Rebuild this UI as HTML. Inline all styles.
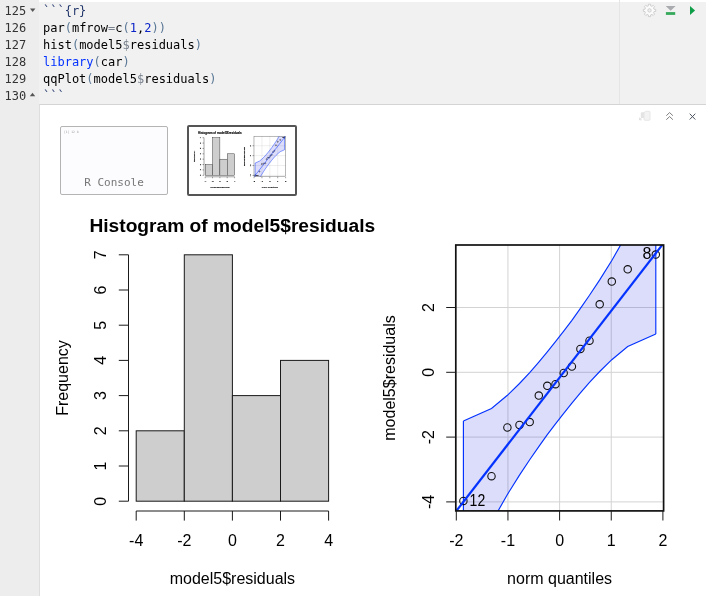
<!DOCTYPE html>
<html><head><meta charset="utf-8"><title>chunk</title>
<style>
html,body{margin:0;padding:0;background:#fff;}
#root{position:relative;width:706px;height:596px;overflow:hidden;background:#fff;font-family:"DejaVu Sans Mono","Liberation Mono",monospace;}
#gutter{position:absolute;left:0;top:0;width:39px;height:593px;padding-top:3px;background:#ededed;}
#codebg{position:absolute;left:39px;top:2px;width:667px;height:102px;background:#f1f1f1;}
#margin{position:absolute;left:619px;top:0;width:1px;height:104px;background:#e5e5e5;}
.ln{position:relative;height:17px;line-height:17px;font-size:12px;color:#333;padding-left:4.5px;white-space:pre;}
.cl{height:17px;line-height:17px;font-size:12px;color:#000;white-space:pre;}
#code{position:absolute;left:43px;top:3px;}
.ch{color:#23376b;} .p{color:#5a7896;} .op{color:#77808c;} .n{color:#0b24c8;} .kw{color:#0433ff;}
#out{position:absolute;left:39px;top:104px;width:680px;height:520px;background:#fff;border-left:1px solid #dedede;border-top:1px solid #d4d4d4;box-sizing:border-box;}
#con{position:absolute;left:60px;top:126px;width:108px;height:69px;box-sizing:border-box;border:1px solid #b4b4b4;border-radius:2px;background:#fcfcfe;}
#con .t{position:absolute;left:3px;top:3px;font-size:3px;line-height:4px;color:#999;font-family:"DejaVu Sans Mono","Liberation Mono",monospace;}
#con .l{position:absolute;left:0;right:0;top:49px;text-align:center;font-size:11px;line-height:14px;color:#777;font-family:"DejaVu Sans Mono","Liberation Mono",monospace;}
#thumb{position:absolute;left:187px;top:125px;width:110px;height:71px;box-sizing:border-box;border:2px solid #555;border-radius:2px;background:#fff;overflow:hidden;}
#thumb text{stroke:#000;stroke-width:0.7px;}
svg text{font-family:"Liberation Sans", Arial, Helvetica, sans-serif;fill:#000;}
</style></head><body>
<div id="root">
<div id="gutter"><div class="ln">125</div><div class="ln">126</div><div class="ln">127</div><div class="ln">128</div><div class="ln">129</div><div class="ln">130</div></div>
<div id="codebg"></div>
<div id="margin"></div>
<div id="code"><div class="cl"><span class="ch">```{r}</span></div><div class="cl">par<span class="p">(</span>mfrow<span class="op">=</span>c<span class="p">(</span><span class="n">1</span>,<span class="n">2</span><span class="p">))</span></div><div class="cl">hist<span class="p">(</span>model5<span class="op">$</span>residuals<span class="p">)</span></div><div class="cl"><span class="kw">library</span><span class="p">(</span>car<span class="p">)</span></div><div class="cl">qqPlot<span class="p">(</span>model5<span class="op">$</span>residuals<span class="p">)</span></div><div class="cl"><span class="ch">```</span></div></div>
<svg style="position:absolute;left:0;top:0" width="706" height="110" viewBox="0 0 706 110">
 <path d="M30 8.5 h5.4 l-2.7 3.4z" fill="#555"/>
 <path d="M29.8 96.2 h5.4 l-2.7 -3.4z" fill="#555"/>
 <!-- gear -->
 <path d="M648.37 5.84 L648.47 4.19 L650.53 4.19 L650.63 5.84 L651.92 6.37 L653.16 5.27 L654.63 6.74 L653.53 7.98 L654.06 9.27 L655.71 9.37 L655.71 11.43 L654.06 11.53 L653.53 12.82 L654.63 14.06 L653.16 15.53 L651.92 14.43 L650.63 14.96 L650.53 16.61 L648.47 16.61 L648.37 14.96 L647.08 14.43 L645.84 15.53 L644.37 14.06 L645.47 12.82 L644.94 11.53 L643.29 11.43 L643.29 9.37 L644.94 9.27 L645.47 7.98 L644.37 6.74 L645.84 5.27 L647.08 6.37Z" fill="#fbfbfb" stroke="#cfcfcf" stroke-width="1" stroke-linejoin="round"/>
 <circle cx="649.5" cy="10.4" r="1.7" fill="#eeeeee" stroke="#cfcfcf" stroke-width="1"/>
 <path d="M665.7 5.9 h9.9 l-4.95 4.9z" fill="#a9abae"/>
 <rect x="665.9" y="12.1" width="9.3" height="2.8" fill="#36a95b"/>
 <path d="M690 6.1 v9 l5.1 -4.5z" fill="#0f9d48"/>
</svg>
<div id="out"></div>
<svg style="position:absolute;left:0;top:105px" width="706" height="30" viewBox="0 105 706 30">
 <rect x="640.8" y="112.3" width="5" height="5.6" rx="1" fill="#e4e4e4"/>
 <path d="M644 112.6 l1.6 -1.3 h3.4 q1 0 1 1 v7 q0 1 -1 1 h-4 q-1 0 -1 -1z" fill="#f3f3f3" stroke="#e2e2e2" stroke-width="0.8"/>
 <path d="M639.4 119.8 l2.6 -2.6 m-2.4 0.4 v2.2 h2.2" fill="none" stroke="#dcdcdc" stroke-width="0.9"/>
 <path d="M666.3 115.7 l3.3 -3.1 3.3 3.1 M666.3 119.7 l3.3 -3.1 3.3 3.1" fill="none" stroke="#707070" stroke-width="0.9"/>
 <path d="M689.7 113.7 l5.6 5.8 M695.3 113.7 l-5.6 5.8" fill="none" stroke="#4d5560" stroke-width="1"/>
</svg>
<div id="con"><div class="t">[1] 12  8</div><div class="l">R Console</div></div>
<div id="thumb">
<svg style="position:absolute;left:0;top:0" width="106" height="67" viewBox="0 0 106 67">
<g transform="translate(-4.59 -28.2) scale(0.15264)">
<text x="89.4" y="231.5" font-size="19.2" font-weight="bold">Histogram of model5$residuals</text>
<rect x="136.20" y="430.80" width="48.10" height="70.40" fill="#cecece" stroke="#1a1a1a" stroke-width="2.6"/>
<rect x="184.30" y="254.80" width="48.10" height="246.40" fill="#cecece" stroke="#1a1a1a" stroke-width="2.6"/>
<rect x="232.40" y="395.60" width="48.10" height="105.60" fill="#cecece" stroke="#1a1a1a" stroke-width="2.6"/>
<rect x="280.50" y="360.40" width="48.10" height="140.80" fill="#cecece" stroke="#1a1a1a" stroke-width="2.6"/>
<path d="M128.5 501.2 V254.80 M128.5 501.20 H118.80 M128.5 466.00 H118.80 M128.5 430.80 H118.80 M128.5 395.60 H118.80 M128.5 360.40 H118.80 M128.5 325.20 H118.80 M128.5 290.00 H118.80 M128.5 254.80 H118.80" fill="none" stroke="#1a1a1a" stroke-width="2.6"/>
<text transform="translate(105.9 501.20) rotate(-90)" text-anchor="middle" font-size="16">0</text>
<text transform="translate(105.9 466.00) rotate(-90)" text-anchor="middle" font-size="16">1</text>
<text transform="translate(105.9 430.80) rotate(-90)" text-anchor="middle" font-size="16">2</text>
<text transform="translate(105.9 395.60) rotate(-90)" text-anchor="middle" font-size="16">3</text>
<text transform="translate(105.9 360.40) rotate(-90)" text-anchor="middle" font-size="16">4</text>
<text transform="translate(105.9 325.20) rotate(-90)" text-anchor="middle" font-size="16">5</text>
<text transform="translate(105.9 290.00) rotate(-90)" text-anchor="middle" font-size="16">6</text>
<text transform="translate(105.9 254.80) rotate(-90)" text-anchor="middle" font-size="16">7</text>
<text transform="translate(67.5 378) rotate(-90)" text-anchor="middle" font-size="16">Frequency</text>
<path d="M136.20 511.0 H328.60 M136.20 511.0 V520.6 M184.30 511.0 V520.6 M232.40 511.0 V520.6 M280.50 511.0 V520.6 M328.60 511.0 V520.6" fill="none" stroke="#1a1a1a" stroke-width="2.6"/>
<text x="136.20" y="545.6" text-anchor="middle" font-size="16">-4</text>
<text x="184.30" y="545.6" text-anchor="middle" font-size="16">-2</text>
<text x="232.40" y="545.6" text-anchor="middle" font-size="16">0</text>
<text x="280.50" y="545.6" text-anchor="middle" font-size="16">2</text>
<text x="328.60" y="545.6" text-anchor="middle" font-size="16">4</text>
<text x="232.40" y="584.4" text-anchor="middle" font-size="16">model5$residuals</text>
<clipPath id="c2"><rect x="455.8" y="245.0" width="207.80" height="265.90"/></clipPath>
<path d="M507.95 245.0 V510.9 M559.60 245.0 V510.9 M611.25 245.0 V510.9 M455.8 501.90 H663.6 M455.8 437.10 H663.6 M455.8 372.30 H663.6 M455.8 307.50 H663.6 " fill="none" stroke="#d3d3d3" stroke-width="2.6"/>
<g clip-path="url(#c2)">
<polygon points="463.4,421.0 491.5,408.5 507.4,395.3 519.5,383.5 529.7,372.6 538.8,362.1 547.3,351.9 555.5,341.7 563.7,331.2 571.9,320.3 580.4,308.4 589.5,295.3 599.7,279.9 611.8,260.5 627.7,232.6 655.8,172.4 655.8,334.0 627.7,346.5 611.8,359.7 599.7,371.5 589.5,382.4 580.4,392.9 571.9,403.1 563.7,413.3 555.5,423.8 547.3,434.7 538.8,446.6 529.7,459.7 519.5,475.1 507.4,494.5 491.5,522.4 463.4,582.6" fill="#1414e6" fill-opacity="0.15" stroke="none"/>
<polyline points="463.4,421.0 491.5,408.5 507.4,395.3 519.5,383.5 529.7,372.6 538.8,362.1 547.3,351.9 555.5,341.7 563.7,331.2 571.9,320.3 580.4,308.4 589.5,295.3 599.7,279.9 611.8,260.5 627.7,232.6 655.8,172.4" fill="none" stroke="#0433ff" stroke-width="2.9899999999999998"/>
<polyline points="463.4,582.6 491.5,522.4 507.4,494.5 519.5,475.1 529.7,459.7 538.8,446.6 547.3,434.7 555.5,423.8 563.7,413.3 571.9,403.1 580.4,392.9 589.5,382.4 599.7,371.5 611.8,359.7 627.7,346.5 655.8,334.0" fill="none" stroke="#0433ff" stroke-width="2.9899999999999998"/>
<path d="M463.4 421.0 V582.6 M655.8 172.4 V334.0" fill="none" stroke="#0433ff" stroke-width="2.9899999999999998"/>
<circle cx="463.4" cy="500.9" r="3.7" fill="none" stroke="#111" stroke-width="2.8600000000000003"/>
<circle cx="491.5" cy="476.2" r="3.7" fill="none" stroke="#111" stroke-width="2.8600000000000003"/>
<circle cx="507.4" cy="427.5" r="3.7" fill="none" stroke="#111" stroke-width="2.8600000000000003"/>
<circle cx="519.5" cy="424.9" r="3.7" fill="none" stroke="#111" stroke-width="2.8600000000000003"/>
<circle cx="529.7" cy="422.1" r="3.7" fill="none" stroke="#111" stroke-width="2.8600000000000003"/>
<circle cx="538.8" cy="395.6" r="3.7" fill="none" stroke="#111" stroke-width="2.8600000000000003"/>
<circle cx="547.3" cy="385.8" r="3.7" fill="none" stroke="#111" stroke-width="2.8600000000000003"/>
<circle cx="555.5" cy="384.2" r="3.7" fill="none" stroke="#111" stroke-width="2.8600000000000003"/>
<circle cx="563.7" cy="373.0" r="3.7" fill="none" stroke="#111" stroke-width="2.8600000000000003"/>
<circle cx="571.9" cy="366.5" r="3.7" fill="none" stroke="#111" stroke-width="2.8600000000000003"/>
<circle cx="580.4" cy="348.9" r="3.7" fill="none" stroke="#111" stroke-width="2.8600000000000003"/>
<circle cx="589.5" cy="340.7" r="3.7" fill="none" stroke="#111" stroke-width="2.8600000000000003"/>
<circle cx="599.7" cy="304.3" r="3.7" fill="none" stroke="#111" stroke-width="2.8600000000000003"/>
<circle cx="611.8" cy="281.6" r="3.7" fill="none" stroke="#111" stroke-width="2.8600000000000003"/>
<circle cx="627.7" cy="269.3" r="3.7" fill="none" stroke="#111" stroke-width="2.8600000000000003"/>
<circle cx="655.8" cy="254.6" r="3.7" fill="none" stroke="#111" stroke-width="2.8600000000000003"/>
<path d="M450.8 518.1 L668.6 236.7" stroke="#0433ff" stroke-width="3.3000000000000003" fill="none"/>
<text x="469.6" y="506.2" font-size="16" textLength="15.6" lengthAdjust="spacingAndGlyphs">12</text>
<text x="651.3" y="259" font-size="16" text-anchor="end">8</text>
</g>
<rect x="455.8" y="245.0" width="207.80" height="265.90" fill="none" stroke="#555" stroke-width="2.72"/>
<path d="M456.30 510.9 V520.50 M507.95 510.9 V520.50 M559.60 510.9 V520.50 M611.25 510.9 V520.50 M662.90 510.9 V520.50 M455.8 501.90 H446.20 M455.8 437.10 H446.20 M455.8 372.30 H446.20 M455.8 307.50 H446.20 " fill="none" stroke="#1a1a1a" stroke-width="2.6"/>
<text x="456.30" y="545.6" text-anchor="middle" font-size="16">-2</text>
<text x="507.95" y="545.6" text-anchor="middle" font-size="16">-1</text>
<text x="559.60" y="545.6" text-anchor="middle" font-size="16">0</text>
<text x="611.25" y="545.6" text-anchor="middle" font-size="16">1</text>
<text x="662.90" y="545.6" text-anchor="middle" font-size="16">2</text>
<text transform="translate(433.8 501.90) rotate(-90)" text-anchor="middle" font-size="16">-4</text>
<text transform="translate(433.8 437.10) rotate(-90)" text-anchor="middle" font-size="16">-2</text>
<text transform="translate(433.8 372.30) rotate(-90)" text-anchor="middle" font-size="16">0</text>
<text transform="translate(433.8 307.50) rotate(-90)" text-anchor="middle" font-size="16">2</text>
<text transform="translate(395.2 378) rotate(-90)" text-anchor="middle" font-size="16">model5$residuals</text>
<text x="559.60" y="584.4" text-anchor="middle" font-size="16">norm quantiles</text>
</g>
</svg>
</div>
<svg style="position:absolute;left:40px;top:200px" width="666" height="396" viewBox="40 200 666 396">
<text x="89.4" y="231.5" font-size="19.2" font-weight="bold">Histogram of model5$residuals</text>
<rect x="136.20" y="430.80" width="48.10" height="70.40" fill="#cecece" stroke="#1a1a1a" stroke-width="1.0"/>
<rect x="184.30" y="254.80" width="48.10" height="246.40" fill="#cecece" stroke="#1a1a1a" stroke-width="1.0"/>
<rect x="232.40" y="395.60" width="48.10" height="105.60" fill="#cecece" stroke="#1a1a1a" stroke-width="1.0"/>
<rect x="280.50" y="360.40" width="48.10" height="140.80" fill="#cecece" stroke="#1a1a1a" stroke-width="1.0"/>
<path d="M128.5 501.2 V254.80 M128.5 501.20 H118.80 M128.5 466.00 H118.80 M128.5 430.80 H118.80 M128.5 395.60 H118.80 M128.5 360.40 H118.80 M128.5 325.20 H118.80 M128.5 290.00 H118.80 M128.5 254.80 H118.80" fill="none" stroke="#1a1a1a" stroke-width="1.0"/>
<text transform="translate(105.9 501.20) rotate(-90)" text-anchor="middle" font-size="16">0</text>
<text transform="translate(105.9 466.00) rotate(-90)" text-anchor="middle" font-size="16">1</text>
<text transform="translate(105.9 430.80) rotate(-90)" text-anchor="middle" font-size="16">2</text>
<text transform="translate(105.9 395.60) rotate(-90)" text-anchor="middle" font-size="16">3</text>
<text transform="translate(105.9 360.40) rotate(-90)" text-anchor="middle" font-size="16">4</text>
<text transform="translate(105.9 325.20) rotate(-90)" text-anchor="middle" font-size="16">5</text>
<text transform="translate(105.9 290.00) rotate(-90)" text-anchor="middle" font-size="16">6</text>
<text transform="translate(105.9 254.80) rotate(-90)" text-anchor="middle" font-size="16">7</text>
<text transform="translate(67.5 378) rotate(-90)" text-anchor="middle" font-size="16">Frequency</text>
<path d="M136.20 511.0 H328.60 M136.20 511.0 V520.6 M184.30 511.0 V520.6 M232.40 511.0 V520.6 M280.50 511.0 V520.6 M328.60 511.0 V520.6" fill="none" stroke="#1a1a1a" stroke-width="1.0"/>
<text x="136.20" y="545.6" text-anchor="middle" font-size="16">-4</text>
<text x="184.30" y="545.6" text-anchor="middle" font-size="16">-2</text>
<text x="232.40" y="545.6" text-anchor="middle" font-size="16">0</text>
<text x="280.50" y="545.6" text-anchor="middle" font-size="16">2</text>
<text x="328.60" y="545.6" text-anchor="middle" font-size="16">4</text>
<text x="232.40" y="584.4" text-anchor="middle" font-size="16">model5$residuals</text>
<clipPath id="c1"><rect x="455.8" y="245.0" width="207.80" height="265.90"/></clipPath>
<path d="M507.95 245.0 V510.9 M559.60 245.0 V510.9 M611.25 245.0 V510.9 M455.8 501.90 H663.6 M455.8 437.10 H663.6 M455.8 372.30 H663.6 M455.8 307.50 H663.6 " fill="none" stroke="#d3d3d3" stroke-width="1.0"/>
<g clip-path="url(#c1)">
<polygon points="463.4,421.0 491.5,408.5 507.4,395.3 519.5,383.5 529.7,372.6 538.8,362.1 547.3,351.9 555.5,341.7 563.7,331.2 571.9,320.3 580.4,308.4 589.5,295.3 599.7,279.9 611.8,260.5 627.7,232.6 655.8,172.4 655.8,334.0 627.7,346.5 611.8,359.7 599.7,371.5 589.5,382.4 580.4,392.9 571.9,403.1 563.7,413.3 555.5,423.8 547.3,434.7 538.8,446.6 529.7,459.7 519.5,475.1 507.4,494.5 491.5,522.4 463.4,582.6" fill="#1414e6" fill-opacity="0.15" stroke="none"/>
<polyline points="463.4,421.0 491.5,408.5 507.4,395.3 519.5,383.5 529.7,372.6 538.8,362.1 547.3,351.9 555.5,341.7 563.7,331.2 571.9,320.3 580.4,308.4 589.5,295.3 599.7,279.9 611.8,260.5 627.7,232.6 655.8,172.4" fill="none" stroke="#0433ff" stroke-width="1.15"/>
<polyline points="463.4,582.6 491.5,522.4 507.4,494.5 519.5,475.1 529.7,459.7 538.8,446.6 547.3,434.7 555.5,423.8 563.7,413.3 571.9,403.1 580.4,392.9 589.5,382.4 599.7,371.5 611.8,359.7 627.7,346.5 655.8,334.0" fill="none" stroke="#0433ff" stroke-width="1.15"/>
<path d="M463.4 421.0 V582.6 M655.8 172.4 V334.0" fill="none" stroke="#0433ff" stroke-width="1.15"/>
<circle cx="463.4" cy="500.9" r="3.7" fill="none" stroke="#111" stroke-width="1.1"/>
<circle cx="491.5" cy="476.2" r="3.7" fill="none" stroke="#111" stroke-width="1.1"/>
<circle cx="507.4" cy="427.5" r="3.7" fill="none" stroke="#111" stroke-width="1.1"/>
<circle cx="519.5" cy="424.9" r="3.7" fill="none" stroke="#111" stroke-width="1.1"/>
<circle cx="529.7" cy="422.1" r="3.7" fill="none" stroke="#111" stroke-width="1.1"/>
<circle cx="538.8" cy="395.6" r="3.7" fill="none" stroke="#111" stroke-width="1.1"/>
<circle cx="547.3" cy="385.8" r="3.7" fill="none" stroke="#111" stroke-width="1.1"/>
<circle cx="555.5" cy="384.2" r="3.7" fill="none" stroke="#111" stroke-width="1.1"/>
<circle cx="563.7" cy="373.0" r="3.7" fill="none" stroke="#111" stroke-width="1.1"/>
<circle cx="571.9" cy="366.5" r="3.7" fill="none" stroke="#111" stroke-width="1.1"/>
<circle cx="580.4" cy="348.9" r="3.7" fill="none" stroke="#111" stroke-width="1.1"/>
<circle cx="589.5" cy="340.7" r="3.7" fill="none" stroke="#111" stroke-width="1.1"/>
<circle cx="599.7" cy="304.3" r="3.7" fill="none" stroke="#111" stroke-width="1.1"/>
<circle cx="611.8" cy="281.6" r="3.7" fill="none" stroke="#111" stroke-width="1.1"/>
<circle cx="627.7" cy="269.3" r="3.7" fill="none" stroke="#111" stroke-width="1.1"/>
<circle cx="655.8" cy="254.6" r="3.7" fill="none" stroke="#111" stroke-width="1.1"/>
<path d="M450.8 518.1 L668.6 236.7" stroke="#0433ff" stroke-width="2.2" fill="none"/>
<text x="469.6" y="506.2" font-size="16" textLength="15.6" lengthAdjust="spacingAndGlyphs">12</text>
<text x="651.3" y="259" font-size="16" text-anchor="end">8</text>
</g>
<rect x="455.8" y="245.0" width="207.80" height="265.90" fill="none" stroke="#111" stroke-width="1.7"/>
<path d="M456.30 510.9 V520.50 M507.95 510.9 V520.50 M559.60 510.9 V520.50 M611.25 510.9 V520.50 M662.90 510.9 V520.50 M455.8 501.90 H446.20 M455.8 437.10 H446.20 M455.8 372.30 H446.20 M455.8 307.50 H446.20 " fill="none" stroke="#1a1a1a" stroke-width="1.0"/>
<text x="456.30" y="545.6" text-anchor="middle" font-size="16">-2</text>
<text x="507.95" y="545.6" text-anchor="middle" font-size="16">-1</text>
<text x="559.60" y="545.6" text-anchor="middle" font-size="16">0</text>
<text x="611.25" y="545.6" text-anchor="middle" font-size="16">1</text>
<text x="662.90" y="545.6" text-anchor="middle" font-size="16">2</text>
<text transform="translate(433.8 501.90) rotate(-90)" text-anchor="middle" font-size="16">-4</text>
<text transform="translate(433.8 437.10) rotate(-90)" text-anchor="middle" font-size="16">-2</text>
<text transform="translate(433.8 372.30) rotate(-90)" text-anchor="middle" font-size="16">0</text>
<text transform="translate(433.8 307.50) rotate(-90)" text-anchor="middle" font-size="16">2</text>
<text transform="translate(395.2 378) rotate(-90)" text-anchor="middle" font-size="16">model5$residuals</text>
<text x="559.60" y="584.4" text-anchor="middle" font-size="16">norm quantiles</text>
</svg>
</div>
</body></html>
